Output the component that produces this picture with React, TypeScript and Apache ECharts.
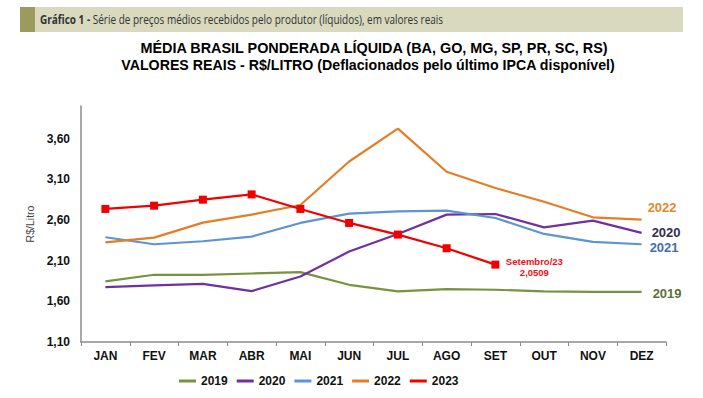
import React, { useEffect, useRef } from "react";
import * as echarts from "echarts";

const months = ["JAN", "FEV", "MAR", "ABR", "MAI", "JUN", "JUL", "AGO", "SET", "OUT", "NOV", "DEZ"];
const s2019 = [1.844, 1.926, 1.926, 1.942, 1.958, 1.803, 1.721, 1.749, 1.742, 1.721, 1.717, 1.717];
const s2020 = [1.774, 1.795, 1.815, 1.725, 1.905, 2.211, 2.428, 2.665, 2.673, 2.509, 2.591, 2.441];
const s2021 = [2.387, 2.301, 2.338, 2.395, 2.563, 2.677, 2.705, 2.714, 2.624, 2.428, 2.33, 2.301];
const s2022 = [2.325, 2.383, 2.567, 2.665, 2.784, 3.318, 3.722, 3.192, 2.992, 2.824, 2.632, 2.604];
const s2023 = [2.735, 2.775, 2.849, 2.914, 2.735, 2.563, 2.42, 2.252, 2.0509];
const yTickLabels = [1.1, 1.6, 2.1, 2.6, 3.1, 3.6];

const FONT = "'Liberation Sans', Arial, sans-serif";

export default function App() {
  const ref = useRef<HTMLDivElement>(null);
  useEffect(() => {
    document.body.style.margin = "0";
    const chart = echarts.init(ref.current!, null, { renderer: "svg" });
    const endLabel = (color: string, offset: number[]) => ({
      show: true,
      formatter: "{a}",
      color,
      fontWeight: "bold",
      fontSize: 13,
      fontFamily: FONT,
      offset,
    });
    const lastIdx = s2023.length - 1;
    const d2023 = s2023.map((v, i) =>
      i === lastIdx
        ? {
            value: v,
            label: {
              show: true,
              position: "right",
              distance: 5,
              align: "center",
              offset: [30, 2],
              formatter: "Setembro/23\n" + v.toFixed(4).replace(".", ","),
              color: "#E8101A",
              fontSize: 9.5,
              fontWeight: "bold",
              fontFamily: FONT,
              lineHeight: 11,
            },
          }
        : v
    );
    chart.setOption({
      animation: false,
      backgroundColor: "#ffffff",
      textStyle: { fontFamily: FONT },
      graphic: [
        { type: "rect", shape: { x: 20, y: 7, width: 663, height: 25 }, style: { fill: "#D8D9BE" } },
        { type: "rect", shape: { x: 20, y: 7, width: 15, height: 25 }, style: { fill: "#9C9B5E" } },
        {
          type: "text",
          x: 40,
          y: 19.5,
          scaleX: 0.8,
          style: {
            text: "{b|Gráfico 1 -} Série de preços médios recebidos pelo produtor (líquidos), em valores reais",
            rich: { b: { fontWeight: "bold", fontSize: 12.5, fill: "#333", fontFamily: "'Open Sans', sans-serif" } },
            fontSize: 12.5,
            fontFamily: "'Open Sans', sans-serif",
            fill: "#333",
            verticalAlign: "middle",
          },
        },
        {
          type: "text",
          x: 374,
          y: 48,
          style: {
            text: "MÉDIA BRASIL PONDERADA LÍQUIDA (BA, GO, MG, SP, PR, SC, RS)",
            fontSize: 14.4,
            fontWeight: "bold",
            fontFamily: FONT,
            fill: "#000",
            align: "center",
            verticalAlign: "middle",
          },
        },
        {
          type: "text",
          x: 368,
          y: 65,
          style: {
            text: "VALORES REAIS - R$/LITRO (Deflacionados pelo último IPCA disponível)",
            fontSize: 14.2,
            fontWeight: "bold",
            fontFamily: FONT,
            fill: "#000",
            align: "center",
            verticalAlign: "middle",
          },
        },
      ],
      legend: {
        left: 179,
        top: 375,
        padding: 0,
        icon: "rect",
        itemWidth: 17,
        itemHeight: 3,
        itemGap: 9,
        textStyle: { fontWeight: "bold", fontSize: 12, color: "#111", fontFamily: FONT },
        data: ["2019", "2020", "2021", "2022", "2023"],
      },
      grid: { left: 81, right: 37, top: 106, bottom: 56, containLabel: false },
      xAxis: {
        type: "category",
        data: months,
        boundaryGap: true,
        axisLine: { lineStyle: { color: "#8c8c8c", width: 1.5 } },
        axisTick: { show: true, length: 4, lineStyle: { color: "#8c8c8c" } },
        axisLabel: { fontWeight: "bold", fontSize: 12, color: "#111", margin: 8, fontFamily: FONT },
        splitLine: { show: false },
      },
      yAxis: {
        type: "value",
        min: 1.1,
        max: 4.0,
        interval: 0.1,
        name: "R$/Litro",
        nameLocation: "middle",
        nameGap: 42,
        nameTextStyle: { fontSize: 10.5, color: "#444", fontFamily: FONT },
        axisLine: { show: true, lineStyle: { color: "#8c8c8c", width: 1.5 } },
        axisTick: { show: false },
        splitLine: { show: false },
        axisLabel: {
          showMaxLabel: false,
          fontWeight: "bold",
          fontSize: 12,
          color: "#111",
          margin: 11,
          fontFamily: FONT,
          formatter: (v: number) => {
            const hit = yTickLabels.find((t) => Math.abs(t - v) < 1e-6);
            return hit !== undefined ? hit.toFixed(2).replace(".", ",") : "";
          },
        },
      },
      series: [
        {
          name: "2019",
          type: "line",
          data: s2019,
          symbol: "none",
          color: "#77933C",
          lineStyle: { width: 2.2 },
          endLabel: endLabel("#5E7132", [3, 2]),
        },
        {
          name: "2020",
          type: "line",
          data: s2020,
          symbol: "none",
          color: "#7030A0",
          lineStyle: { width: 2.2 },
          endLabel: endLabel("#332E48", [2, 0]),
        },
        {
          name: "2021",
          type: "line",
          data: s2021,
          symbol: "none",
          color: "#5B95D3",
          lineStyle: { width: 2.2 },
          endLabel: endLabel("#4170A8", [0, 3]),
        },
        {
          name: "2022",
          type: "line",
          data: s2022,
          symbol: "none",
          color: "#E37E24",
          lineStyle: { width: 2.2 },
          endLabel: endLabel("#E08A2E", [-2, -12]),
        },
        {
          name: "2023",
          type: "line",
          data: d2023,
          symbol: "rect",
          symbolSize: 8,
          color: "#F00000",
          lineStyle: { width: 2.2 },
          itemStyle: { color: "#F00000" },
        },
      ],
    });
    return () => chart.dispose();
  }, []);
  return <div ref={ref} style={{ width: 703, height: 398 }} />;
}
